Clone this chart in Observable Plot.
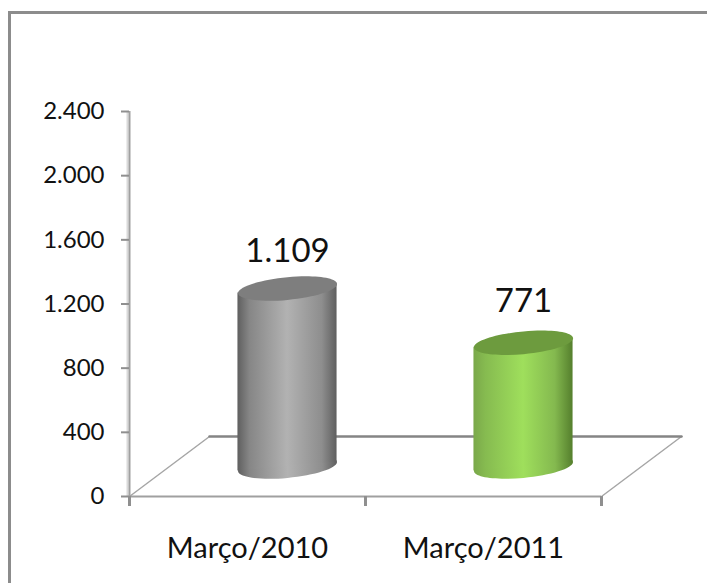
<!DOCTYPE html>
<html>
<head>
<meta charset="utf-8">
<script src="https://cdn.jsdelivr.net/npm/d3@7"></script>
<script src="https://cdn.jsdelivr.net/npm/@observablehq/plot@0.6"></script>
<style>
html,body{margin:0;padding:0;background:#fff;overflow:hidden}
#frame{position:absolute;left:8px;top:11px;right:-10px;bottom:0;border-left:3px solid #8c8c8c;border-top:3px solid #8c8c8c;pointer-events:none}
#chart{position:absolute;left:0;top:0}
</style>
</head>
<body>
<div id="frame"></div>
<div id="chart"></div>
<script>
const categories = ["Março/2010", "Março/2011"];
const values = [1109, 771];
const yTicks = [0, 400, 800, 1200, 1600, 2000, 2400];
const gradients = ["url(#cylGrey)", "url(#cylGreen)"];
const capColors = ["#7e7e7e", "#6d9b3e"];
const labelDy = [-37, -41];

// 3-D floor depth and cylinder geometry, in scale units
const depthX = 0.339, depthY = 374;
const halfW = 0.21, tilt = 28, lift = 187, cylRadius = 49.5;

const pt = d3.formatLocale({decimal: ",", thousands: ".", grouping: [3], currency: ["", ""]}).format(",");

// Skewed ellipse used for the cylinder caps
const cap = {
  draw(ctx, size) {
    const r = Math.sqrt(size / Math.PI), k = 0.5523;
    const a = 0.23, s = -0.091;
    const P = (u, v) => [r * u, r * (a * v + s * u)];
    const c = (p1, p2, p3) => ctx.bezierCurveTo(...P(...p1), ...P(...p2), ...P(...p3));
    ctx.moveTo(...P(1, 0));
    c([1, k], [k, 1], [0, 1]);
    c([-k, 1], [-1, k], [-1, 0]);
    c([-1, -k], [-k, -1], [0, -1]);
    c([k, -1], [1, -k], [1, 0]);
    ctx.closePath();
  }
};

const rows = categories.map((name, i) => ({name, value: values[i], i, cx: i + 0.5 + depthX / 2}));
const font = "Lato, 'Open Sans', sans-serif";
const axisGrey = "#8f8f8f";

const cylinderMarks = rows.flatMap(r => {
  const body = [
    {x: r.cx - halfW, y1: lift - tilt, y2: lift + r.value - tilt},
    {x: r.cx + halfW, y1: lift + tilt, y2: lift + r.value + tilt}
  ];
  return [
    Plot.dot([r], {x: "cx", y: () => lift, r: cylRadius, symbol: cap, fill: gradients[r.i]}),
    Plot.areaY(body, {x: "x", y1: "y1", y2: "y2", fill: gradients[r.i]}),
    Plot.dot([r], {x: "cx", y: d => lift + d.value, r: cylRadius, symbol: cap, fill: capColors[r.i]}),
    Plot.text([r], {
      x: "cx", y: d => lift + d.value, dy: labelDy[r.i],
      text: d => pt(d.value), fontSize: 33, fill: "#111"
    })
  ];
});

const chart = Plot.plot({
  width: 707,
  height: 583,
  marginLeft: 129,
  marginRight: 106,
  marginTop: 111,
  marginBottom: 87,
  style: {background: "transparent", fontFamily: font, overflow: "visible"},
  x: {domain: [0, 2]},
  y: {domain: [0, 2400]},
  marks: [
    // floor of the 3-D plot
    Plot.line([[0, 0], [depthX, depthY]], {stroke: "#a6a6a6", strokeWidth: 1.5}),
    Plot.line([[2, 0], [2 + depthX, depthY]], {stroke: "#a6a6a6", strokeWidth: 1.5}),
    Plot.line([[depthX, depthY], [2 + depthX, depthY]], {stroke: "#858585", strokeWidth: 2.5}),
    ...cylinderMarks,
    Plot.ruleX([0], {stroke: "#d9d9d9", strokeWidth: 2, dx: -2, y1: 0, y2: 2400}),
    Plot.ruleX([0], {stroke: "#a0a0a0", strokeWidth: 2, y1: 0, y2: 2400}),
    Plot.ruleY([0], {stroke: "#a0a0a0", strokeWidth: 2, x1: 0, x2: 2}),
    Plot.axisY({
      ticks: yTicks, tickSize: 8, tickPadding: 17, tickFormat: pt, label: null,
      stroke: axisGrey, strokeWidth: 2, fontSize: 24, fill: "#111", tickRotate: 0
    }),
    Plot.axisX({ticks: [0, 1, 2], tickSize: 10, tickFormat: () => "", label: null, stroke: axisGrey, strokeWidth: 3}),
    Plot.axisX({
      ticks: [0.5, 1.5], tickSize: 0, tickPadding: 41, label: null,
      tickFormat: d => categories[Math.floor(d)], fontSize: 29, fill: "#111"
    })
  ]
});

// Gradients for the cylinder sides
const defs = d3.select(chart).append("defs");
const grad = (id, stops) => {
  const g = defs.append("linearGradient").attr("id", id).attr("x1", 0).attr("x2", 1).attr("y1", 0).attr("y2", 0);
  stops.forEach(([o, c]) => g.append("stop").attr("offset", o).attr("stop-color", c));
};
grad("cylGrey", [[0, "#5f5f5f"], [0.12, "#868686"], [0.5, "#b2b2b2"], [0.85, "#8e8e8e"], [1, "#5f5f5f"]]);
grad("cylGreen", [[0, "#7aa84a"], [0.12, "#86bb50"], [0.5, "#9fdf5c"], [0.82, "#84b94f"], [1, "#557f2d"]]);

document.getElementById("chart").append(chart);
</script>
</body>
</html>
